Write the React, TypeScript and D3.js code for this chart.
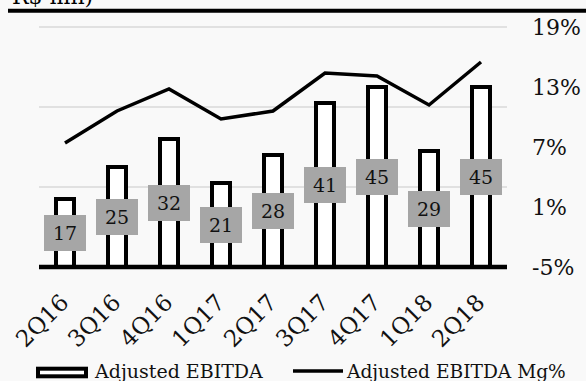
import React from "react";
import * as d3 from "d3";

const quarters = ["2Q16", "3Q16", "4Q16", "1Q17", "2Q17", "3Q17", "4Q17", "1Q18", "2Q18"];
const ebitda = [17, 25, 32, 21, 28, 41, 45, 29, 45];
const marginPct = [7.4, 10.6, 12.8, 9.8, 10.6, 14.4, 14.1, 11.2, 15.5];
const barGrid = [20, 40, 60];
const pctTicks = [-5, 1, 7, 13, 19];

const W = 586;
const H = 381;
const FONT = "'DejaVu Serif', Georgia, serif";

export default function App() {
  const x = d3.scaleBand<string>().domain(quarters).range([39, 507]).padding(0);
  const cx = (q: string) => (x(q) as number) + x.bandwidth() / 2;
  const yBar = d3.scaleLinear().domain([0, 60]).range([267, 27]);
  const yPct = d3.scaleLinear().domain([-5, 19]).range([267, 27]);
  const barW = 18;

  const line = d3
    .line<number>()
    .x((_, i) => cx(quarters[i]))
    .y((d) => yPct(d));

  return (
    <svg
      width={W}
      height={H}
      style={{ position: "absolute", left: 0, top: 0, background: "#f9f9f9" }}
      fontFamily={FONT}
    >
      {/* heading, mostly above the top edge */}
      <text x={12} y={4} fontSize={22} fill="#000">R$ mn)</text>
      <line x1={8} x2={W} y1={10.7} y2={10.7} stroke="#000" strokeWidth={4} />

      {/* gridlines */}
      {barGrid.map((g) => (
        <line key={g} x1={39} x2={507} y1={yBar(g)} y2={yBar(g)} stroke="#d9d9d9" strokeWidth={1.5} />
      ))}

      {/* bars */}
      {quarters.map((q, i) => (
        <rect
          key={q}
          x={cx(q) - barW / 2}
          y={yBar(ebitda[i])}
          width={barW}
          height={yBar(0) - yBar(ebitda[i])}
          fill="#fff"
          stroke="#000"
          strokeWidth={4}
        />
      ))}

      {/* baseline */}
      <line x1={39} x2={507} y1={yBar(0)} y2={yBar(0)} stroke="#000" strokeWidth={4.5} />

      {/* margin line */}
      <path d={line(marginPct) || ""} fill="none" stroke="#000" strokeWidth={3.5} strokeLinejoin="miter" />

      {/* value labels */}
      {quarters.map((q, i) => {
        const my = (yBar(0) + yBar(ebitda[i])) / 2;
        return (
          <g key={q}>
            <rect x={cx(q) - 21} y={my - 18} width={42} height={36} fill="#a6a6a6" />
            <text x={cx(q)} y={my} dy="0.36em" textAnchor="middle" fontSize={19} fill="#111">
              {ebitda[i]}
            </text>
          </g>
        );
      })}

      {/* right axis labels */}
      {pctTicks.map((t) => (
        <text key={t} x={532} y={yPct(t)} dy="0.36em" fontSize={22} fill="#111">
          {t}%
        </text>
      ))}

      {/* category labels */}
      {quarters.map((q) => (
        <text
          key={q}
          transform={`translate(${cx(q) + 5},304) rotate(-45)`}
          textAnchor="end"
          fontSize={23}
          fill="#111"
        >
          {q}
        </text>
      ))}

      {/* legend */}
      <rect x={38} y={368.7} width={48} height={7.6} fill="#fff" stroke="#000" strokeWidth={4} />
      <text x={95} y={378} fontSize={19} fill="#111">Adjusted EBITDA</text>
      <line x1={293} x2={343} y1={371} y2={371} stroke="#000" strokeWidth={3.5} />
      <text x={347} y={378} fontSize={18.6} fill="#111">Adjusted EBITDA Mg%</text>
    </svg>
  );
}
